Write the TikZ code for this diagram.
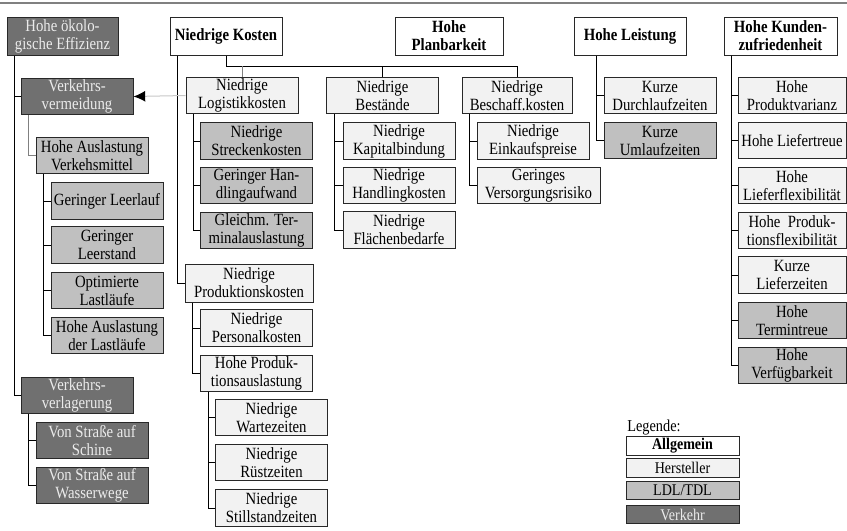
\documentclass[tikz,border=0pt]{standalone}
\usepackage{fontspec}
\setmainfont{Liberation Serif}[FakeStretch=0.86]
\usetikzlibrary{calc,arrows.meta}
\definecolor{verkehr}{RGB}{112,112,112}
\definecolor{ldl}{RGB}{192,192,192}
\definecolor{herst}{RGB}{242,242,242}
\definecolor{rand}{RGB}{40,40,40}
\tikzstyle{box}=[draw=rand, line width=0.6pt, inner sep=0pt, minimum width=67.2pt, minimum height=21.8pt, align=center, font=\fontsize{10.3}{10.8}\selectfont]
\tikzstyle{allg}=[box, fill=white, minimum height=22.8pt, font=\fontsize{10.3}{10.8}\selectfont\bfseries]
\tikzstyle{hersteller}=[box, fill=herst]
\tikzstyle{dienstl}=[box, fill=ldl]
\tikzstyle{verkehrbox}=[box, fill=verkehr, text=white!92!black]
\tikzstyle{legbox}=[draw=rand, line width=0.6pt, inner sep=0pt, minimum width=67.8pt, minimum height=11.2pt, font=\fontsize{9.8}{10}\selectfont]
\tikzstyle{ast}=[line width=0.6pt, draw=black]

\begin{document}
\begin{tikzpicture}[x=0.6pt,y=-0.6pt]
\useasboundingbox (0,0) rectangle (847,530);
\draw[gray, line width=1.2pt] (0,3) -- (847,3);

\node[verkehrbox, minimum width=66.6pt, minimum height=22.8pt] (oe) at (62.5,36) {Hohe ökolo-\\gische Effizienz};
\node[allg] (nk) at (226,36) {Niedrige Kosten};
\node[allg, minimum width=64.8pt] (hp) at (449,36) {Hohe\\Planbarkeit};
\node[allg] (hl) at (630,36) {Hohe Leistung};
\node[allg, minimum width=67.8pt] (hk) at (780.5,36) {Hohe Kunden-\\zufriedenheit};

\node[verkehrbox] (vv) at (77,96.5) {Verkehrs-\\vermeidung};
\node[dienstl] (ha) at (92,155.5) {Hohe Auslastung\\Verkehsmittel};
\node[dienstl] (gl) at (107,201) {Geringer Leerlauf};
\node[dienstl] (gs) at (107,245) {Geringer\\Leerstand};
\node[dienstl] (ol) at (107,290.5) {Optimierte\\Lastläufe};
\node[dienstl] (hal) at (107,335.5) {Hohe Auslastung\\der Lastläufe};
\node[verkehrbox] (vl) at (77,395.5) {Verkehrs-\\verlagerung};
\node[verkehrbox] (vs) at (92,440.5) {Von Straße auf\\Schine};
\node[verkehrbox] (vw) at (92,485.5) {Von Straße auf\\Wasserwege};

\node[hersteller] (lk) at (242,95.5) {Niedrige\\Logistikkosten};
\node[dienstl] (sk) at (256.5,141) {Niedrige\\Streckenkosten};
\node[dienstl] (gh) at (256.5,185.5) {Geringer Han-\\dlingaufwand};
\node[dienstl] (gt) at (256.5,230.5) {Gleichm. Ter-\\minalauslastung};
\node[hersteller, minimum width=76.8pt, minimum height=22.8pt] (npk) at (249,283) {Niedrige\\Produktionskosten};
\node[hersteller] (pk) at (256.5,328) {Niedrige\\Personalkosten};
\node[hersteller] (hpa) at (256.5,373.5) {Hohe Produk-\\tionsauslastung};
\node[hersteller] (wz) at (271.5,417.5) {Niedrige\\Wartezeiten};
\node[hersteller] (rz) at (271.5,462.5) {Niedrige\\Rüstzeiten};
\node[hersteller] (sz) at (271.5,508) {Niedrige\\Stillstandzeiten};

\node[hersteller] (nb) at (382.5,95.5) {Niedrige\\Bestände};
\node[hersteller] (kb) at (399,141) {Niedrige\\Kapitalbindung};
\node[hersteller] (hkb) at (399,185.5) {Niedrige\\Handlingkosten};
\node[hersteller] (fb) at (399,230) {Niedrige\\Flächenbedarfe};
\node[hersteller, minimum width=66pt] (nbk) at (517,95.5) {Niedrige\\Beschaff.kosten};
\node[hersteller] (ep) at (533,141) {Niedrige\\Einkaufspreise};
\node[hersteller, minimum width=73.8pt] (vr) at (538.5,185.5) {Geringes\\Versorgungsrisiko};

\node[hersteller] (kd) at (660,95.5) {Kurze\\Durchlaufzeiten};
\node[dienstl] (ku) at (660,140.5) {Kurze\\Umlaufzeiten};

\node[hersteller, minimum width=64.8pt] (pv) at (792,95.5) {Hohe\\Produktvarianz};
\node[hersteller, minimum width=64.8pt] (lt) at (792,140.5) {Hohe Liefertreue};
\node[hersteller, minimum width=64.8pt] (lf) at (792,185.5) {Hohe\\Lieferflexibilität};
\node[hersteller, minimum width=64.8pt] (pf) at (792,230.5) {Hohe~ Produk-\\tionsflexibilität};
\node[hersteller, minimum width=64.8pt] (kl) at (792,275) {Kurze\\Lieferzeiten};
\node[dienstl, minimum width=64.8pt] (tt) at (792,320.5) {Hohe\\Termintreue};
\node[dienstl, minimum width=64.8pt] (vb) at (792,365.5) {Hohe\\Verfügbarkeit};

\coordinate (bus) at (0,66);
\draw[ast] (nk.south) |- (bus -| nbk.north) -- (nbk.north);
\draw[ast] (bus -| nb.north) -- (nb.north);
\draw[ast, gray] (bus -| lk.north) -- (lk.north);
\draw[ast, gray] ([xshift=4.8pt]vv.south west) |- (ha.west);
\foreach \p/\c in {oe/vv,oe/vl,ha/gl,ha/gs,ha/ol,ha/hal,vl/vs,vl/vw,nk/npk,lk/sk,lk/gh,lk/gt,npk/pk,npk/hpa,hpa/wz,hpa/rz,hpa/sz,nb/kb,nb/hkb,nb/fb,nbk/ep,nbk/vr,hk/pv,hk/lt,hk/lf,hk/pf,hk/kl,hk/tt,hk/vb}
	\draw[ast] ([xshift=4.8pt]\p.south west) |- (\c.west);
\foreach \c in {kd,ku}
	\draw[ast] ([xshift=13.8pt]hl.south west) |- (\c.west);
\draw[line width=0.6pt, black!22, -{Latex[black, length=7pt, width=6.5pt]}] (lk.west) -- (vv.east);

\node[anchor=west, inner sep=0pt, font=\fontsize{10}{10}\selectfont] (leg) at (627,428) {Legende:};
\node[legbox, fill=white, font=\fontsize{9.8}{10}\selectfont\bfseries] (la) at (682.5,446) {Allgemein};
\node[legbox, fill=herst] (lh) at (682.5,468) {Hersteller};
\node[legbox, fill=ldl] (ld) at (682.5,490.5) {LDL/TDL};
\node[legbox, fill=verkehr, text=white!92!black] (lv) at (682.5,514.5) {Verkehr};
\end{tikzpicture}
\end{document}
